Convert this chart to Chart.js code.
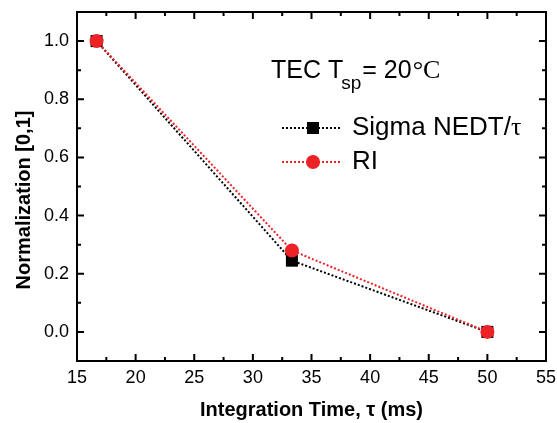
<!DOCTYPE html>
<html>
<head>
<meta charset="utf-8">
<script src="https://cdn.jsdelivr.net/npm/chart.js@4.4.1/dist/chart.umd.min.js"></script>
<style>
  html, body { margin: 0; padding: 0; background: #fff; }
  #wrap { width: 557px; height: 423px; position: relative; }
</style>
</head>
<body>
<div id="wrap"><canvas id="chart" width="557" height="423"></canvas></div>
<script>
const timeValues = [16.67, 33.33, 50];
const sigmaValues = [1.0, 0.245, 0.0];
const riValues = [1.0, 0.28, 0.0];
const xTicks = [15, 20, 25, 30, 35, 40, 45, 50, 55];
const yTicks = [0.0, 0.2, 0.4, 0.6, 0.8, 1.0];
const yTitle = 'Normalization [0,1]';

const RED = '#ec2227';
const FONT = "'Liberation Sans', Arial, sans-serif";
const SERIF = "'Liberation Serif', 'Times New Roman', serif";

const toPoints = vals => vals.map((v, i) => ({ x: timeValues[i], y: v }));

const noPad = s => { s.paddingLeft = 0; s.paddingRight = 0; s.paddingTop = 0; s.paddingBottom = 0; };

// frame, inward ticks, y title, annotation and legend
const framePlugin = {
  id: 'frame',
  beforeDatasetsDraw(chart) {
    const { ctx, chartArea: a, scales: { x, y } } = chart;
    ctx.save();
    ctx.strokeStyle = '#000';
    ctx.lineWidth = 2;
    ctx.strokeRect(a.left, a.top, a.right - a.left, a.bottom - a.top);
    ctx.beginPath();
    for (let v = x.min; v <= x.max + 0.01; v += 2.5) {
      const px = x.getPixelForValue(v);
      const len = (v % 5 === 0) ? 7 : 4;
      ctx.moveTo(px, a.bottom); ctx.lineTo(px, a.bottom - len);
      ctx.moveTo(px, a.top); ctx.lineTo(px, a.top + len);
    }
    for (let k = 0; k <= 10; k++) {
      const v = k / 10;
      const py = y.getPixelForValue(v);
      const len = (k % 2 === 0) ? 7 : 4;
      ctx.moveTo(a.left, py); ctx.lineTo(a.left + len, py);
      ctx.moveTo(a.right, py); ctx.lineTo(a.right - len, py);
    }
    ctx.stroke();

    // y title, drawn here so it can sit a bit below the plot centre like the original
    ctx.fillStyle = '#000';
    ctx.font = 'bold 20px ' + FONT;
    ctx.textAlign = 'center';
    ctx.textBaseline = 'middle';
    ctx.translate(24, 200);
    ctx.rotate(-Math.PI / 2);
    ctx.fillText(yTitle, 0, 0);
    ctx.restore();
  },
  afterDraw(chart) {
    const { ctx } = chart;
    ctx.save();
    ctx.fillStyle = '#000';
    ctx.textBaseline = 'alphabetic';
    // TEC T_sp = 20 C
    let tx = 271;
    ctx.font = '25px ' + FONT;
    ctx.fillText('TEC T', tx, 78);
    tx += ctx.measureText('TEC T').width - 2;
    ctx.font = '19px ' + FONT;
    ctx.fillText('sp', tx, 89);
    tx += ctx.measureText('sp').width + 1;
    ctx.font = '25px ' + FONT;
    ctx.fillText('= 20', tx, 78);
    tx += ctx.measureText('= 20').width + 1;
    ctx.font = '26px ' + SERIF;
    ctx.fillText('\u00b0C', tx, 78);

    // legend
    const items = [
      { label: 'Sigma NEDT/', greek: '\u03c4', color: '#000', style: 'rect', y: 128 },
      { label: 'RI', greek: '', color: RED, style: 'circle', y: 162 }
    ];
    items.forEach(it => {
      ctx.strokeStyle = it.color;
      ctx.lineWidth = 2;
      ctx.setLineDash([2, 2]);
      ctx.beginPath();
      ctx.moveTo(282, it.y); ctx.lineTo(341, it.y);
      ctx.stroke();
      ctx.setLineDash([]);
      ctx.fillStyle = it.color;
      if (it.style === 'rect') {
        ctx.fillRect(313 - 6, it.y - 6, 12, 12);
      } else {
        ctx.beginPath();
        ctx.arc(313, it.y, 7, 0, Math.PI * 2);
        ctx.fill();
      }
      ctx.fillStyle = '#000';
      ctx.textBaseline = 'middle';
      ctx.font = '26px ' + FONT;
      ctx.fillText(it.label, 352, it.y);
      if (it.greek) {
        const w = ctx.measureText(it.label).width;
        ctx.font = '26px ' + SERIF;
        ctx.fillText(it.greek, 352 + w, it.y);
      }
    });
    ctx.restore();
  }
};

new Chart(document.getElementById('chart'), {
  type: 'scatter',
  data: {
    datasets: [
      {
        label: 'RI',
        data: toPoints(riValues),
        showLine: true,
        borderColor: RED,
        backgroundColor: RED,
        borderWidth: 2,
        borderDash: [2, 2],
        pointStyle: 'circle',
        pointRadius: 7,
        pointBorderWidth: 0,
        order: 0
      },
      {
        label: 'Sigma NEDT/\u03c4',
        data: toPoints(sigmaValues),
        showLine: true,
        borderColor: '#000',
        backgroundColor: '#000',
        borderWidth: 2,
        borderDash: [2, 2],
        pointStyle: 'rect',
        pointRadius: 8.5,
        pointBorderWidth: 0,
        order: 1
      }
    ]
  },
  options: {
    responsive: false,
    animation: false,
    layout: { padding: { top: 12, right: 11, left: 0, bottom: 0 } },
    plugins: {
      legend: { display: false },
      tooltip: { enabled: false }
    },
    scales: {
      x: {
        type: 'linear',
        min: 15,
        max: 55,
        afterBuildTicks: s => { s.ticks = xTicks.map(v => ({ value: v })); },
        afterFit: s => { s.height = 62; noPad(s); },
        grid: { display: false, drawTicks: false },
        border: { display: false },
        ticks: {
          color: '#000',
          padding: 6,
          maxRotation: 0,
          font: { family: FONT, size: 18 }
        },
        title: {
          display: true,
          text: 'Integration Time, \u03c4 (ms)',
          color: '#000',
          padding: { top: 0, bottom: 1 },
          font: { family: FONT, size: 20, weight: 'bold' }
        }
      },
      y: {
        type: 'linear',
        min: -0.1,
        max: 1.1,
        afterBuildTicks: s => { s.ticks = yTicks.map(v => ({ value: v })); },
        afterFit: s => { s.width = 77; noPad(s); },
        grid: { display: false, drawTicks: false },
        border: { display: false },
        ticks: {
          color: '#000',
          padding: 8,
          font: { family: FONT, size: 18 },
          callback: v => v.toFixed(1)
        }
      }
    }
  },
  plugins: [framePlugin]
});
</script>
</body>
</html>
